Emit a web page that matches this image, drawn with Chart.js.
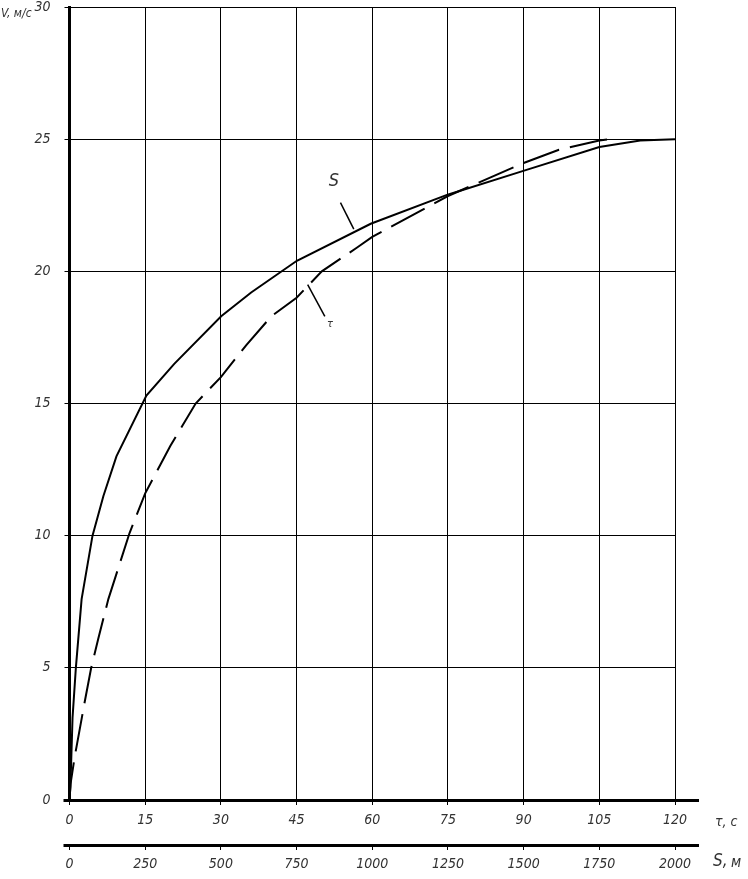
<!DOCTYPE html>
<html><head><meta charset="utf-8">
<script src="https://cdn.jsdelivr.net/npm/chart.js@4/dist/chart.umd.min.js"></script>
<style>html,body{margin:0;padding:0;background:#fff;} canvas{display:block;}</style>
</head><body>
<canvas id="c" width="748" height="879"></canvas>
<script>
// V(S) — solid curve, distance in metres
const sDistance   = [0, 3, 10, 21, 40, 76, 112, 155, 254, 346, 501, 600, 751, 995, 1249, 1499, 1750, 1885, 2000];
const vByDistance = [0, 0.5, 3.1, 5, 7.6, 10, 11.5, 13, 15.3, 16.5, 18.3, 19.2, 20.4, 21.8, 22.9, 23.8, 24.7, 24.95, 25];
// V(τ) — dashed curve, time in seconds
const tTime   = [0, 0.2, 1, 3, 4.3, 5.7, 7.7, 11.9, 15, 20, 25, 30, 35, 40, 45, 50, 57, 60, 75, 90, 97, 105, 107];
const vByTime = [0, 0.6, 1.6, 3.7, 5.0, 6.1, 7.6, 10.1, 11.6, 13.4, 15.0, 16.0, 17.2, 18.3, 19.0, 20.0, 20.9, 21.3, 22.85, 24.1, 24.6, 24.95, 25];
// tick labels
const vTicks = [0, 5, 10, 15, 20, 25, 30];
const tTicks = [0, 15, 30, 45, 60, 75, 90, 105, 120];
const sTicks = [0, 250, 500, 750, 1000, 1250, 1500, 1750, 2000];
// texts
const yTitle = 'V, м/с';
const tTitle = 'τ, с';
const sTitleMain = 'S,';
const sTitleUnit = 'м';
const curveLabelS = 'S';
const curveLabelT = 'τ';

const FONT = '"DejaVu Sans Condensed", "Liberation Sans Narrow", sans-serif';
const TXT = '#333';

const setTicks = arr => scale => { scale.ticks = arr.map(v => ({value: v})); };
const plain = v => String(v);

const deco = {
  id: 'deco',
  afterDraw(chart) {
    const ctx = chart.ctx;
    const xT = chart.scales.xT, xS = chart.scales.xS, y = chart.scales.y;
    ctx.save();
    ctx.strokeStyle = '#000';
    ctx.lineWidth = 3;
    [xT.top, xS.top].forEach(yy => {
      ctx.beginPath(); ctx.moveTo(xT.left - 6, yy + 0.5); ctx.lineTo(xT.right + 24, yy + 0.5); ctx.stroke();
    });
    ctx.fillStyle = TXT;
    ctx.textBaseline = 'middle';
    ctx.textAlign = 'left';
    ctx.font = 'italic 12px ' + FONT;
    ctx.fillText(yTitle, 1, y.top + 7);
    ctx.font = 'italic 14px ' + FONT;
    ctx.fillText(tTitle, xT.right + 40, xT.top + 22);
    ctx.font = 'italic 17px ' + FONT;
    ctx.fillText(sTitleMain, xS.right + 38, xS.top + 17);
    ctx.font = 'italic 15px ' + FONT;
    ctx.fillText(sTitleUnit, xS.right + 56, xS.top + 18);

    // leader for S curve
    ctx.lineWidth = 1.5;
    ctx.beginPath();
    ctx.moveTo(xS.getPixelForValue(939), y.getPixelForValue(21.6));
    ctx.lineTo(xS.getPixelForValue(895), y.getPixelForValue(22.6));
    ctx.stroke();
    ctx.font = 'italic 18px ' + FONT;
    ctx.textAlign = 'center';
    ctx.fillText(curveLabelS, xS.getPixelForValue(873), y.getPixelForValue(23.4));
    // leader for τ curve
    ctx.beginPath();
    ctx.moveTo(xT.getPixelForValue(47.2), y.getPixelForValue(19.5));
    ctx.lineTo(xT.getPixelForValue(50.6), y.getPixelForValue(18.3));
    ctx.stroke();
    ctx.font = 'italic 11px ' + FONT;
    ctx.fillText(curveLabelT, xT.getPixelForValue(51.6), y.getPixelForValue(18.0));
    ctx.restore();
  }
};

const tickFont = {family: FONT, size: 14, style: 'italic', lineHeight: 1.0};

new Chart(document.getElementById('c'), {
  type: 'line',
  data: {
    datasets: [
      {
        label: 'S',
        data: sDistance.map((s, i) => ({x: s, y: vByDistance[i]})),
        xAxisID: 'xS', yAxisID: 'y',
        borderColor: '#000', borderWidth: 2, pointRadius: 0, tension: 0, fill: false
      },
      {
        label: 'τ',
        data: tTime.map((t, i) => ({x: t, y: vByTime[i]})),
        xAxisID: 'xT', yAxisID: 'y',
        borderColor: '#000', borderWidth: 2, borderDash: [38, 11], pointRadius: 0, tension: 0, fill: false
      }
    ]
  },
  options: {
    responsive: false,
    animation: false,
    devicePixelRatio: 1,
    layout: {padding: {top: 7, right: 73, left: 0, bottom: 0}},
    plugins: {legend: {display: false}, tooltip: {enabled: false}},
    scales: {
      y: {
        type: 'linear', position: 'left', min: 0, max: 30,
        afterBuildTicks: setTicks(vTicks),
        afterFit: s => { s.width = 69.5; s.paddingTop = 0; s.paddingBottom = 0; },
        grid: {color: '#000', lineWidth: 1, tickLength: 5, drawTicks: true},
        border: {display: true, color: '#000', width: 3},
        ticks: {color: TXT, font: tickFont, padding: 14, callback: plain}
      },
      xT: {
        type: 'linear', position: 'bottom', weight: 0, min: 0, max: 120,
        afterBuildTicks: setTicks(tTicks),
        afterFit: s => { s.height = 45; },
        grid: {color: '#000', lineWidth: 1, tickLength: 5, drawTicks: true},
        border: {display: true, color: '#000', width: 3},
        ticks: {color: TXT, font: tickFont, padding: 8, maxRotation: 0, autoSkip: false, callback: plain}
      },
      xS: {
        type: 'linear', position: 'bottom', weight: 1, min: 0, max: 2000,
        afterBuildTicks: setTicks(sTicks),
        afterFit: s => { s.height = 34; },
        grid: {color: '#000', lineWidth: 1, tickLength: 5, drawTicks: true, drawOnChartArea: false},
        border: {display: true, color: '#000', width: 3},
        ticks: {color: TXT, font: tickFont, padding: 7, maxRotation: 0, autoSkip: false, callback: plain}
      }
    }
  },
  plugins: [deco]
});
</script>
</body></html>
